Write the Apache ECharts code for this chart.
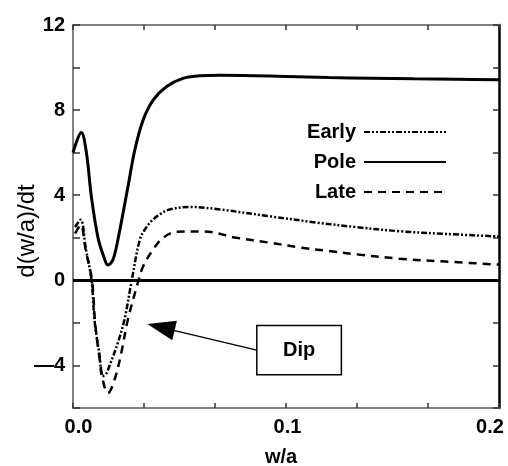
<!DOCTYPE html>
<html>
<head>
<meta charset="utf-8">
<script src="https://cdn.jsdelivr.net/npm/echarts@6/dist/echarts.min.js"></script>
<style>
  html, body { margin: 0; padding: 0; background: #fff; }
  #chart { width: 508px; height: 466px; }
</style>
</head>
<body>
<div id="chart"></div>
<script>
// Growth rate d(w/a)/dt against island width w/a for three phasings
const seriesNames = ['Early', 'Pole', 'Late'];

const pole = [
  [0, 6.0], [0.0039, 6.95], [0.0063, 6.0], [0.0086, 3.95], [0.0118, 1.97],
  [0.0149, 0.98], [0.0164, 0.72], [0.0188, 0.98], [0.0212, 1.97], [0.0258, 4.4],
  [0.029, 6.12], [0.0329, 7.53], [0.0376, 8.47], [0.0438, 9.1], [0.0516, 9.49],
  [0.0595, 9.61], [0.0689, 9.64], [0.085, 9.62], [0.1, 9.58], [0.12, 9.53],
  [0.14, 9.5], [0.16, 9.47], [0.18, 9.45], [0.2, 9.43]
];

const early = [
  [0.001, 2.5], [0.0036, 2.85], [0.006, 1.5], [0.0087, 0], [0.0102, -1.98],
  [0.0125, -3.55], [0.0138, -4.5], [0.0155, -4.4], [0.0172, -4.0], [0.0211, -2.92],
  [0.0242, -1.83], [0.0274, -0.1], [0.0314, 1.92], [0.0345, 2.5], [0.0376, 2.86],
  [0.0415, 3.15], [0.0454, 3.33], [0.0548, 3.45], [0.0689, 3.33], [0.0923, 3.01],
  [0.114, 2.72], [0.133, 2.5], [0.153, 2.31], [0.175, 2.18], [0.2, 2.06]
];

const late = [
  [0.001, 2.2], [0.0036, 2.6], [0.006, 1.4], [0.0089, 0], [0.0104, -2.0],
  [0.0125, -3.7], [0.0145, -4.9], [0.0164, -5.3], [0.0196, -4.64], [0.0227, -3.39],
  [0.0258, -1.83], [0.0305, -0.1], [0.033, 0.67], [0.0376, 1.45], [0.0423, 2.0],
  [0.0486, 2.28], [0.061, 2.3], [0.0767, 2.0], [0.0923, 1.77], [0.106, 1.55],
  [0.12, 1.38], [0.135, 1.2], [0.153, 1.02], [0.175, 0.88], [0.2, 0.74]
];

const xTickLabels = { '0': '{a|0.0}', '0.1': '{b|0.1}', '0.2': '{c|0.2}' };
const yTickLabels = { '12': '12', '8': '8', '4': '4', '0': '0', '-4': '\u20144' };

const FONT = '"Liberation Sans", Arial, sans-serif';
const AXIS_GRAY = '#808080';

const chart = echarts.init(document.getElementById('chart'), null, { renderer: 'canvas' });

const tickFont = { fontFamily: FONT, fontSize: 20, fontWeight: 'bold', color: '#000' };

chart.setOption({
  animation: false,
  backgroundColor: '#fff',
  grid: { left: 73, right: 9, top: 25, bottom: 58 },
  legend: {
    data: seriesNames,
    orient: 'vertical',
    align: 'right',
    right: 61,
    top: 122,
    padding: 0,
    itemWidth: 82,
    itemHeight: 14,
    itemGap: 10,
    selectedMode: false,
    itemStyle: { color: 'rgba(0,0,0,0)', borderWidth: 0 },
    textStyle: { fontFamily: FONT, fontSize: 20, fontWeight: 'bold', color: '#000', padding: [0, 3, 0, 0] }
  },
  xAxis: [
    {
      type: 'value', min: 0, max: 0.2, interval: 0.2 / 6, position: 'bottom',
      axisLine: { onZero: false, lineStyle: { color: AXIS_GRAY, width: 2 } },
      axisTick: { inside: true, length: 5, lineStyle: { color: '#333', width: 1.5 } },
      splitLine: { show: false },
      axisLabel: {
        margin: 9,
        showMinLabel: true, showMaxLabel: true,
        formatter: v => xTickLabels[String(Math.round(v * 1000) / 1000)] || '',
        rich: {
          a: Object.assign({ padding: [0, 0, 0, 11] }, tickFont),
          b: Object.assign({ padding: [0, 0, 0, 3] }, tickFont),
          c: Object.assign({ padding: [0, 18, 0, 0] }, tickFont)
        }
      }
    },
    {
      type: 'value', min: 0, max: 0.2, interval: 0.2 / 6, position: 'top',
      axisLine: { onZero: false, lineStyle: { color: AXIS_GRAY, width: 2 } },
      axisTick: { inside: true, length: 5, lineStyle: { color: '#333', width: 1.5 } },
      splitLine: { show: false },
      axisLabel: { show: false }
    }
  ],
  yAxis: [
    {
      type: 'value', min: -6, max: 12, interval: 2, position: 'left',
      axisLine: { show: true, onZero: false, lineStyle: { color: AXIS_GRAY, width: 2 } },
      axisTick: { show: true, inside: true, length: 7, lineStyle: { color: '#333', width: 1.5 } },
      splitLine: { show: false },
      axisLabel: Object.assign({
        margin: 8,
        formatter: v => yTickLabels[String(v)] || ''
      }, tickFont)
    },
    {
      type: 'value', min: -6, max: 12, interval: 2, position: 'right',
      axisLine: { show: true, onZero: false, lineStyle: { color: '#000', width: 2.5 } },
      axisTick: { show: true, inside: true, length: 6, lineStyle: { color: '#333', width: 1.5 } },
      splitLine: { show: false },
      axisLabel: { show: false }
    }
  ],
  graphic: [
    {
      type: 'text', x: 27, y: 231, rotation: Math.PI / 2,
      style: { text: 'd(w/a)/dt', font: '24px ' + FONT, fill: '#000', align: 'center', verticalAlign: 'middle' }
    },
    {
      type: 'text', x: 281, y: 457,
      style: { text: 'w/a', font: 'bold 20px ' + FONT, fill: '#000', align: 'center', verticalAlign: 'middle' }
    }
  ],
  series: [
    {
      name: 'Early', type: 'line', data: early,
      symbol: 'none', smooth: 0.35,
      lineStyle: { color: '#000', width: 2.5, type: [6, 2, 2, 2, 2, 2] },
      itemStyle: { color: '#000' },
      markLine: {
        silent: true, animation: false,
        label: { show: false },
        symbol: ['none', 'triangle'],
        symbolSize: [20, 28],
        lineStyle: { color: '#000', width: 1.5, type: 'solid' },
        data: [[{ coord: [0.0863, -3.28] }, { coord: [0.0413, -2.21] }]]
      }
    },
    {
      name: 'Pole', type: 'line', data: pole,
      symbol: 'none', smooth: 0.35,
      lineStyle: { color: '#000', width: 3, type: 'solid' },
      itemStyle: { color: '#000' },
      markArea: {
        silent: true,
        itemStyle: { color: '#fff', borderColor: '#000', borderWidth: 1.5, opacity: 1 },
        label: {
          show: true, position: 'inside', color: '#000',
          fontFamily: FONT, fontSize: 20, fontWeight: 'bold'
        },
        data: [[{ name: 'Dip', coord: [0.0863, -2.12] }, { coord: [0.126, -4.44] }]]
      }
    },
    {
      name: 'Late', type: 'line', data: late,
      symbol: 'none', smooth: 0.35,
      lineStyle: { color: '#000', width: 2.5, type: [8, 6] },
      itemStyle: { color: '#000' },
      markLine: {
        silent: true, animation: false,
        symbol: 'none',
        label: { show: false },
        lineStyle: { color: '#000', width: 3, type: 'solid' },
        data: [{ yAxis: 0 }]
      }
    }
  ]
});
</script>
</body>
</html>
